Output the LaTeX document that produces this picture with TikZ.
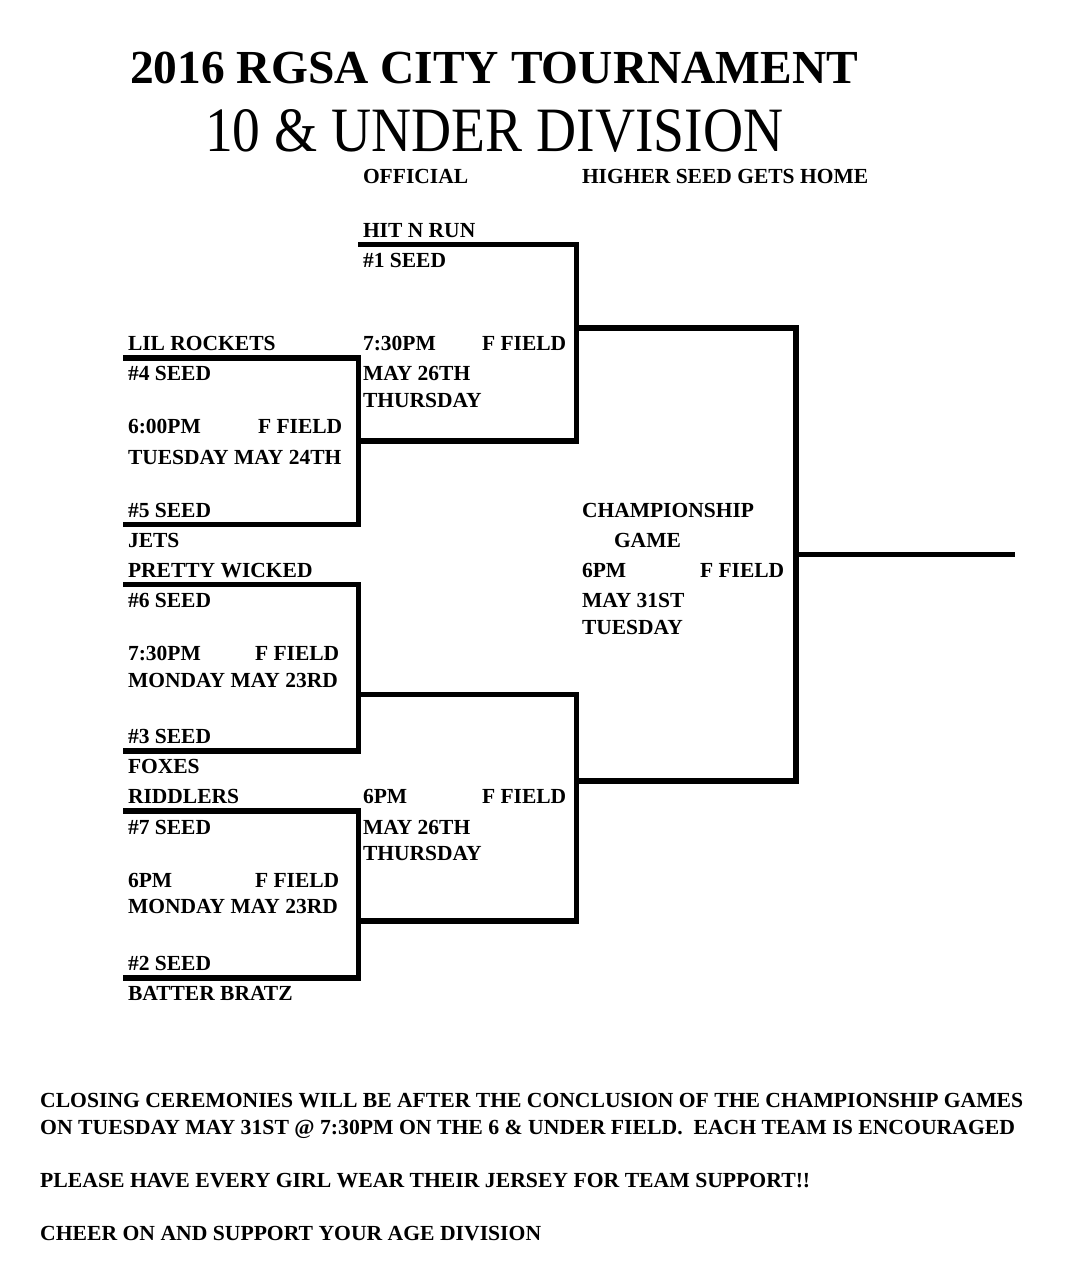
\documentclass[tikz,border=0pt]{standalone}
\usepackage{fontspec}
\setmainfont{Liberation Serif}
\usepackage{graphicx}
\begin{document}
\begin{tikzpicture}[x=1pt,y=-1pt,
  txt/.style={anchor=base west, inner sep=0pt, outer sep=0pt, font=\fontsize{21.5}{21.5}\selectfont\bfseries},
  bline/.style={line width=5.5pt, line join=miter, line cap=butt}]
\useasboundingbox[fill=white] (0,0) rectangle (1080,1276);
% titles
\node[anchor=base west, inner sep=0pt] (title) at (130,84) {\resizebox{728pt}{\height}{\fontsize{47.4}{47.4}\selectfont\bfseries 2016 RGSA CITY TOURNAMENT}};
\node[anchor=base west, inner sep=0pt] (div) at (205,152) {\resizebox{578pt}{42pt}{\fontsize{55.5}{55.5}\selectfont 10 \& UNDER DIVISION}};
\node[txt] (official) at (363,184) {OFFICIAL};
\node[txt] (higher) at (582,184) {HIGHER SEED GETS HOME};
% round 2 top
\node[txt] (hit) at (363,237) {HIT N RUN};
\node[txt] (s1) at (363,267) {\#1 SEED};
\node[txt] (q1time) at (363,350) {7:30PM};
\node[txt] (q1field) at (482,350) {F FIELD};
\node[txt] (q1date) at (363,380) {MAY 26TH};
\node[txt] (q1day) at (363,407) {THURSDAY};
% game 1
\node[txt] (lil) at (128,350) {LIL ROCKETS};
\node[txt] (s4) at (128,380) {\#4 SEED};
\node[txt] (g1time) at (128,433) {6:00PM};
\node[txt] (g1field) at (258,433) {F FIELD};
\node[txt] (g1date) at (128,464) {TUESDAY MAY 24TH};
\node[txt] (s5) at (128,517) {\#5 SEED};
\node[txt] (jets) at (128,547) {JETS};
% game 2
\node[txt] (pretty) at (128,577) {PRETTY WICKED};
\node[txt] (s6) at (128,607) {\#6 SEED};
\node[txt] (g2time) at (128,660) {7:30PM};
\node[txt] (g2field) at (255,660) {F FIELD};
\node[txt] (g2date) at (128,687) {MONDAY MAY 23RD};
\node[txt] (s3) at (128,743) {\#3 SEED};
\node[txt] (foxes) at (128,773) {FOXES};
% game 3
\node[txt] (riddlers) at (128,803) {RIDDLERS};
\node[txt] (s7) at (128,834) {\#7 SEED};
\node[txt] (g3time) at (128,887) {6PM};
\node[txt] (g3field) at (255,887) {F FIELD};
\node[txt] (g3date) at (128,913) {MONDAY MAY 23RD};
\node[txt] (s2) at (128,970) {\#2 SEED};
\node[txt] (batter) at (128,1000) {BATTER BRATZ};
% semifinal bottom
\node[txt] (q2time) at (363,803) {6PM};
\node[txt] (q2field) at (482,803) {F FIELD};
\node[txt] (q2date) at (363,834) {MAY 26TH};
\node[txt] (q2day) at (363,860) {THURSDAY};
% championship
\node[txt] (champ) at (582,517) {CHAMPIONSHIP};
\node[txt] (game) at (614,547) {GAME};
\node[txt] (ctime) at (582,577) {6PM};
\node[txt] (cfield) at (700,577) {F FIELD};
\node[txt] (cdate) at (582,607) {MAY 31ST};
\node[txt] (cday) at (582,634) {TUESDAY};
% bottom notes
\node[anchor=base west, inner sep=0pt] (n1) at (40,1107) {\resizebox{983pt}{\height}{\fontsize{21.5}{21.5}\selectfont\bfseries CLOSING CEREMONIES WILL BE AFTER THE CONCLUSION OF THE CHAMPIONSHIP GAMES}};
\node[anchor=base west, inner sep=0pt] (n2) at (40,1134) {\resizebox{975pt}{\height}{\fontsize{21.5}{21.5}\selectfont\bfseries ON TUESDAY MAY 31ST @ 7:30PM ON THE 6 \& UNDER FIELD.\ \ EACH TEAM IS ENCOURAGED}};
\node[anchor=base west, inner sep=0pt] (n3) at (40,1187) {\resizebox{770pt}{\height}{\fontsize{21.5}{21.5}\selectfont\bfseries PLEASE HAVE EVERY GIRL WEAR THEIR JERSEY FOR TEAM SUPPORT!!}};
\node[anchor=base west, inner sep=0pt] (n4) at (40,1240) {\resizebox{501pt}{\height}{\fontsize{21.5}{21.5}\selectfont\bfseries CHEER ON AND SUPPORT YOUR AGE DIVISION}};
% bracket coordinates
\coordinate (a1) at (123,358);   \coordinate (a2) at (358.5,358);
\coordinate (a3) at (358.5,524.5); \coordinate (a4) at (123,524.5);
\coordinate (b1) at (123,584.5); \coordinate (b2) at (358.5,584.5);
\coordinate (b3) at (358.5,751); \coordinate (b4) at (123,751);
\coordinate (c1) at (123,811);   \coordinate (c2) at (358.5,811);
\coordinate (c3) at (358.5,978); \coordinate (c4) at (123,978);
\coordinate (d1) at (358,244.5); \coordinate (d2) at (576.5,244.5);
\coordinate (d3) at (576.5,441); \coordinate (d4) at (358.5,441);
\coordinate (e1) at (358.5,694.5); \coordinate (e2) at (576.5,694.5);
\coordinate (e3) at (576.5,921); \coordinate (e4) at (358.5,921);
\coordinate (f1) at (576.5,328); \coordinate (f2) at (796,328);
\coordinate (f3) at (796,781);   \coordinate (f4) at (576.5,781);
\coordinate (g1) at (796,554.5); \coordinate (g2) at (1015,554.5);
\draw[bline] (a1) -- (a2) -- (a3) -- (a4);
\draw[bline] (b1) -- (b2) -- (b3) -- (b4);
\draw[bline] (c1) -- (c2) -- (c3) -- (c4);
\draw[bline] (d1) -- (d2) -- (d3) -- (d4);
\draw[bline] (e1) -- (e2) -- (e3) -- (e4);
\draw[bline] (f1) -- (f2) -- (f3) -- (f4);
\draw[bline] (g1) -- (g2);
\end{tikzpicture}
\end{document}
